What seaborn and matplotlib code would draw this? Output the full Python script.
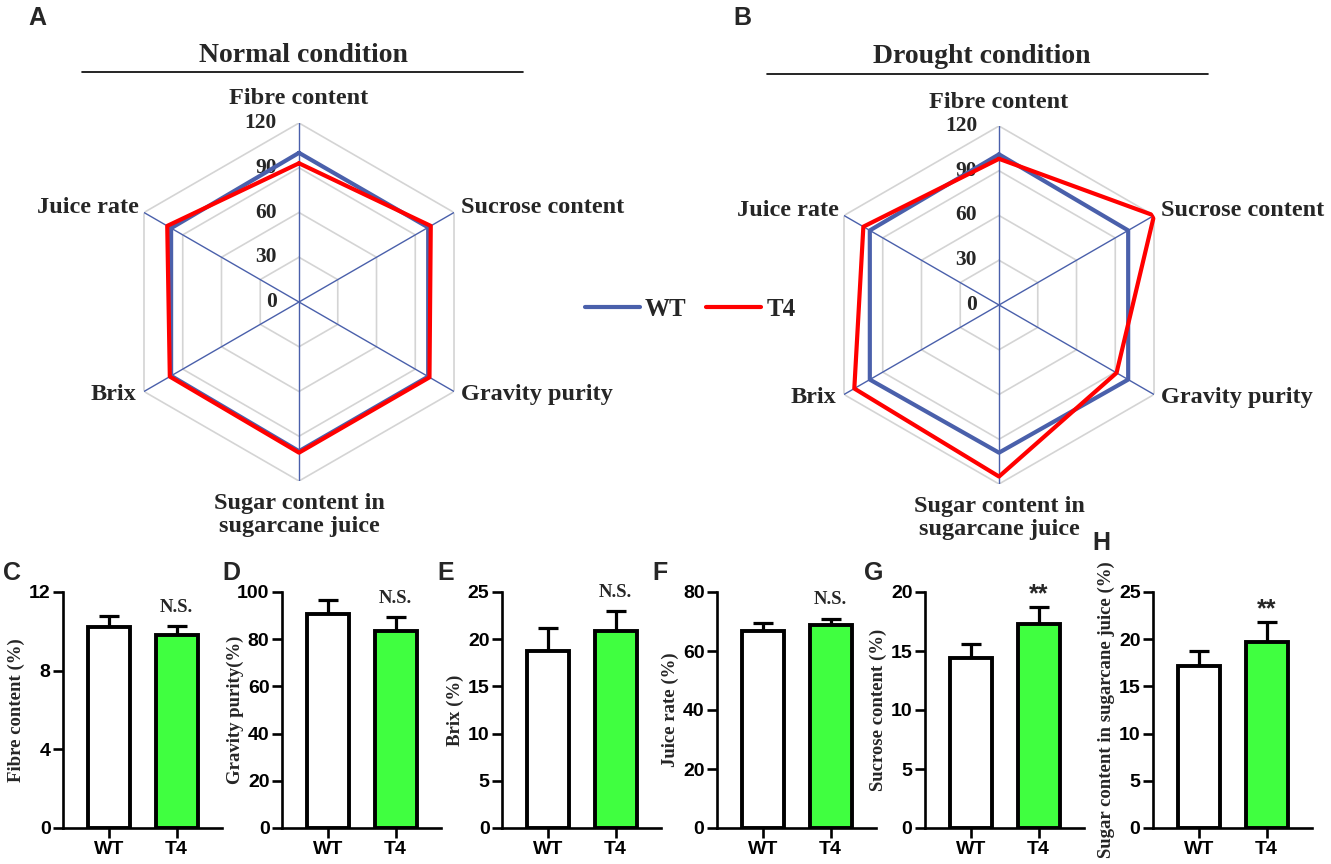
import numpy as np
import pandas as pd
import seaborn as sns
import matplotlib
matplotlib.use("Agg")
import matplotlib.pyplot as plt
from matplotlib.lines import Line2D

# radar data (relative values, WT ~ 100)
traits = ["Fibre content", "Sucrose content", "Gravity purity",
          "Sugar content in\nsugarcane juice", "Brix", "Juice rate"]
normal_wt = [100, 100, 100, 100, 99, 99]
normal_t4 = [93, 102, 101, 101, 100, 102]
drought_wt = [101, 100, 100, 99, 100, 100]
drought_t4 = [98, 120, 91, 115, 112, 105]
radar_levels = [0, 30, 60, 90, 120]

# bar data (drought)
groups = ["WT", "T4"]
fibre_mean = [10.2, 9.83]
fibre_err = [0.56, 0.42]
gravity_mean = [90.7, 83.6]
gravity_err = [5.8, 5.8]
brix_mean = [18.8, 20.9]
brix_err = [2.4, 2.05]
juice_mean = [66.7, 68.7]
juice_err = [2.9, 2.3]
sucrose_mean = [14.4, 17.3]
sucrose_err = [1.2, 1.45]
sugar_mean = [17.2, 19.7]
sugar_err = [1.6, 2.15]

sns.set_theme(style="white")
plt.rcParams["font.family"] = ["Liberation Sans", "DejaVu Sans"]
plt.rcParams["font.weight"] = "bold"

W, H = 1331, 864
fig = plt.figure(figsize=(W / 100, H / 100), dpi=100)

SERIF = "Liberation Serif"
BLUE = "#4a60ab"
RED = "#ff0000"
GREEN = "#40ff40"


def px(x, y, w=0, h=0):
    # pixel box (top-left origin) -> figure fraction
    return [x / W, 1 - (y + h) / H, w / W, h / H]


def radar(cx, cy, wt, t4):
    R = 179
    ax = fig.add_axes(px(cx - R, cy - R, 2 * R, 2 * R), projection="polar")
    ax.set_theta_zero_location("N")
    ax.set_theta_direction(-1)
    ax.set_ylim(0, 120)
    ax.grid(False)
    ax.spines["polar"].set_visible(False)
    ax.set_xticks([])
    ax.set_yticks([])
    ax.patch.set_alpha(0)

    ang = np.linspace(0, 2 * np.pi, len(traits), endpoint=False)
    closed = np.append(ang, ang[0])
    for lvl in radar_levels[1:]:
        ax.plot(closed, [lvl] * len(closed), color="#d4d4d4", lw=1.2, zorder=1)
    for a in ang:
        ax.plot([a, a], [0, 120], color=BLUE, lw=1.0, zorder=2)
    for lvl in radar_levels:
        ax.annotate(str(lvl), xy=(0, lvl), xytext=(-22, 0), textcoords="offset pixels",
                    ha="right", va="center", fontsize=15.5, fontfamily=SERIF,
                    fontweight="bold", zorder=2)
    l1, = ax.plot(closed, wt + wt[:1], color=BLUE, lw=3, zorder=3)
    l2, = ax.plot(closed, t4 + t4[:1], color=RED, lw=3, zorder=4)

    offs = [(0, 24, "center", "center"), (7, 5, "left", "center"),
            (7, -3, "left", "center"), (0, -12, "center", "top"),
            (-8, -3, "right", "center"), (-5, 5, "right", "center")]
    for a, name, (dx, dy, ha, va) in zip(ang, traits, offs):
        ax.annotate(name, xy=(a, 120), xytext=(dx, dy), textcoords="offset pixels",
                    ha=ha, va=va, fontsize=17.5, fontfamily=SERIF, fontweight="bold",
                    linespacing=1.12, annotation_clip=False)
    return l1, l2


h1, h2 = radar(299, 302, normal_wt, normal_t4)
radar(999, 305, drought_wt, drought_t4)

# titles with rule lines
fig.text(303 / W, 1 - 62 / H, "Normal condition", ha="center", va="baseline",
         fontsize=20, fontfamily=SERIF, fontweight="bold")
fig.text(982 / W, 1 - 63 / H, "Drought condition", ha="center", va="baseline",
         fontsize=20, fontfamily=SERIF, fontweight="bold")
fig.add_artist(Line2D([82 / W, 523 / W], [1 - 72 / H, 1 - 72 / H], color="black", lw=1.2))
fig.add_artist(Line2D([767 / W, 1208 / W], [1 - 74 / H, 1 - 74 / H], color="black", lw=1.2))

fig.legend([h1, h2], groups, loc="center", bbox_to_anchor=(690 / W, 1 - 309 / H),
           ncol=2, frameon=False, handlelength=2.2, handletextpad=0.2,
           columnspacing=0.8, prop={"family": SERIF, "weight": "bold", "size": 18})

# panel letters
for x, y, s in [(28, 25, "A"), (733, 25, "B"), (3, 580, "C"), (222, 580, "D"),
                (437, 580, "E"), (652, 580, "F"), (864, 580, "G"), (1092, 550, "H")]:
    fig.text(x / W, 1 - y / H, s, fontsize=18, fontweight="bold", va="baseline")

# bar panels
panels = [
    (63, fibre_mean, fibre_err, [0, 4, 8, 12], "Fibre content (%)", "N.S."),
    (282, gravity_mean, gravity_err, [0, 20, 40, 60, 80, 100], "Gravity purity(%)", "N.S."),
    (502, brix_mean, brix_err, [0, 5, 10, 15, 20, 25], "Brix (%)", "N.S."),
    (717, juice_mean, juice_err, [0, 20, 40, 60, 80], "Juice rate (%)", "N.S."),
    (925, sucrose_mean, sucrose_err, [0, 5, 10, 15, 20], "Sucrose content (%)", "**"),
    (1153, sugar_mean, sugar_err, [0, 5, 10, 15, 20, 25],
     "Sugar content in sugarcane juice (%)", "**"),
]

for left, mean, err, ticks, ylab, sig in panels:
    ax = fig.add_axes(px(left, 592, 159, 236))
    df = pd.DataFrame({"group": groups, "value": mean})
    sns.barplot(data=df, x="group", y="value", hue="group", palette=["white", GREEN],
                legend=False, width=0.62, edgecolor="black", linewidth=2.8,
                saturation=1, errorbar=None, ax=ax, zorder=3)
    ax.errorbar([0, 1], mean, yerr=[[0, 0], err], fmt="none", ecolor="black",
                elinewidth=2.3, capsize=7.5, capthick=2.3, zorder=2)
    ax.set_xlim(-0.68, 1.67)
    ax.set_ylim(0, ticks[-1])
    ax.set_yticks(ticks)
    ax.set_xlabel("")
    ax.set_ylabel(ylab, fontsize=13.5, fontfamily=SERIF, fontweight="bold")
    ax.yaxis.set_label_coords(-38 / 159, 0.5)
    sns.despine(ax=ax)
    for sp in ["left", "bottom"]:
        ax.spines[sp].set_linewidth(1.9)
        ax.spines[sp].set_color("black")
    ax.tick_params(direction="out", length=7, width=1.9, labelsize=14, pad=2,
                   colors="black", left=True, bottom=True)
    if sig == "**":
        ax.annotate(sig, xy=(1, mean[1] + err[1]), xytext=(0, 12), textcoords="offset pixels",
                    ha="center", va="center", fontsize=18, fontweight="bold",
                    annotation_clip=False)
    else:
        ax.annotate(sig, xy=(1, mean[1] + err[1]), xytext=(0, 19), textcoords="offset pixels",
                    ha="center", va="center", fontsize=13.5, fontfamily=SERIF,
                    fontweight="bold", annotation_clip=False)

fig.savefig("out.png", dpi=100)
